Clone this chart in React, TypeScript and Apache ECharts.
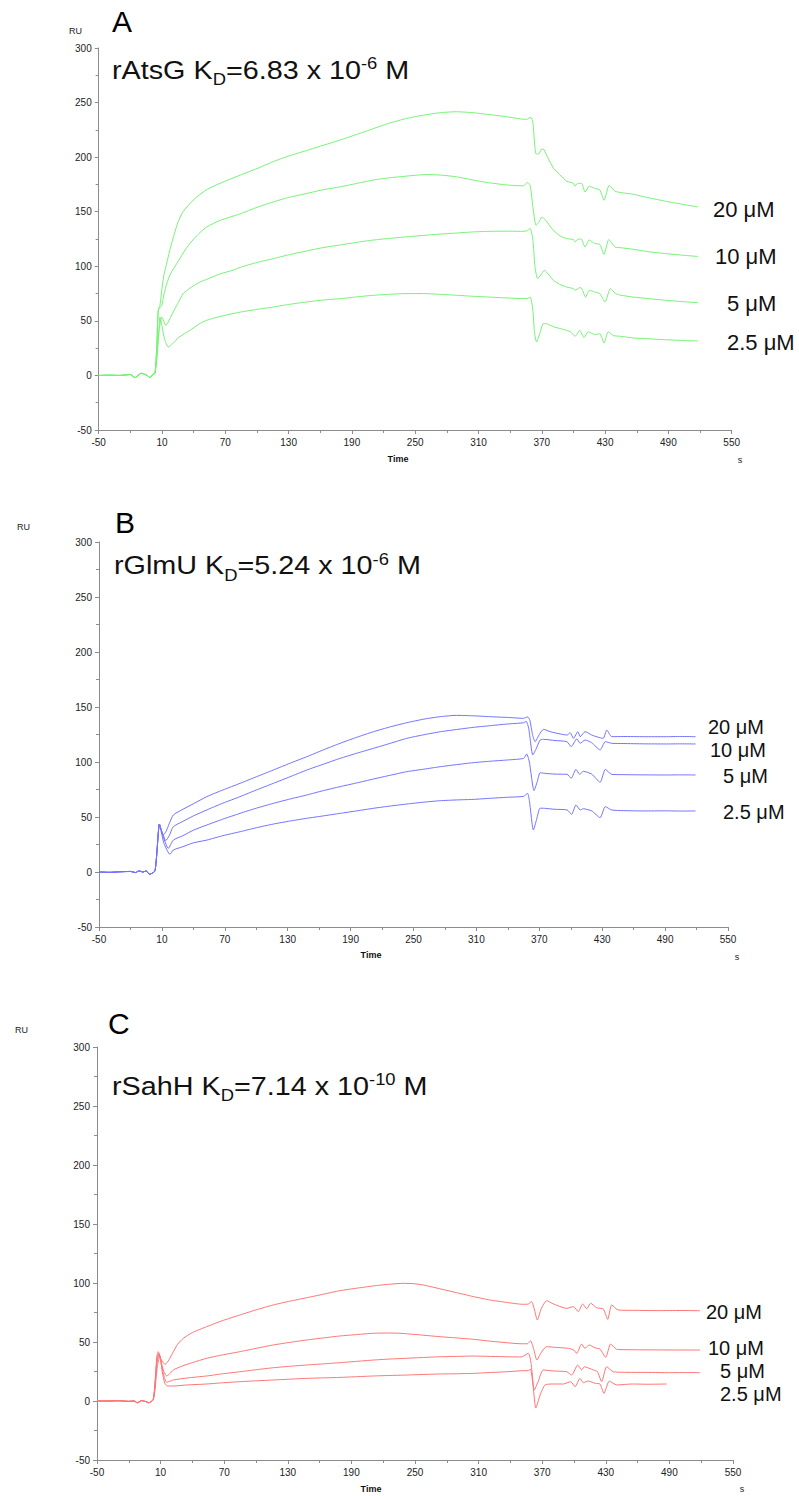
import React, { useEffect, useRef } from "react";
import * as echarts from "echarts";

// ---- axis settings (shared by the three panels) ----
const TIME_MIN = -50;
const TIME_MAX = 550;
const TIME_STEP = 60;
const RU_MIN = -50;
const RU_MAX = 300;
const RU_STEP = 50;

const CONC_LABELS = ["20 μM", "10 μM", "5 μM", "2.5 μM"];

// ---- Panel A : rAtsG ----
const A_BASE: number[][] = [[-50, 0], [-40, 0.2], [-30, 0], [-20, 0.8], [-15.6, -2], [-12, 0.5], [-10, 2], [-7.7, 1.5], [-4, 0], [-1.4, -2], [1, 0.5], [2.5, 1.5], [3.4, 2]];
const A_20: number[][] = [[5, 25], [6.5, 60], [8, 64], [10, 80], [12, 93], [14.5, 103], [17, 113], [20, 124], [25, 140], [30, 150], [40, 161], [52, 170], [65, 176], [84, 183.5], [100, 189.5], [115, 195.7], [130, 201], [147, 206], [160, 210], [178.7, 215.6], [195, 221], [210, 226], [225, 231], [242, 235.5], [258, 238.5], [273.5, 240.7], [289, 241.6], [305, 240.7], [320, 239], [336.7, 237], [350, 235], [355.7, 234.6], [359.5, 236.6], [361.5, 232], [363, 215], [364.5, 203], [367, 203], [370, 207.5], [372, 207], [376, 199], [381, 190], [387, 184], [393.6, 178], [400, 176], [401.5, 173.4], [404, 176], [407.8, 175.9], [411, 168], [415, 173.4], [420, 171.5], [425, 170], [429, 160.5], [434, 174.3], [439.4, 168.8], [445, 167.5], [456.7, 166], [470, 163], [488, 159.5], [505, 156.5], [518, 154.4]];
const A_10: number[][] = [[5, 25], [6.5, 60], [9.7, 64], [12, 75], [14.5, 84], [18, 93], [24, 102.5], [30, 112], [36.5, 121], [45, 130], [52.4, 136], [65, 142], [84, 148], [100, 154], [115.5, 159], [130, 163], [147, 166.7], [162, 170], [178.7, 172.8], [195, 176], [210, 179], [225, 181], [241.8, 182.6], [255, 183.8], [264, 184], [275, 183.5], [289, 182], [305, 179], [321, 176.4], [337, 174.5], [352.5, 173.7], [356.6, 176.8], [359, 174], [361.5, 155], [364.5, 137.6], [367, 140], [370, 145], [373, 143], [380, 134], [387, 128], [393.6, 125.4], [400, 124.5], [401.5, 122.5], [405, 125], [407.8, 124.5], [411, 117.7], [415, 124], [420, 121], [425, 120], [429, 111], [433.5, 124.5], [439.4, 117.7], [445, 117], [456.7, 115.6], [470, 113.5], [488, 111.6], [505, 110], [518, 109]];
const A_5: number[][] = [[5, 15], [7, 40], [9.7, 53.5], [11.5, 50], [13.5, 45.9], [16, 49], [20, 57], [25, 66], [30.2, 75], [38, 81], [46, 85.6], [52.4, 88], [65, 93], [77.6, 96.5], [84, 99], [100, 103.5], [115.5, 107], [130, 110.5], [147, 114], [162, 117], [178.7, 119.5], [195, 122], [210, 124], [225, 125.5], [242, 127], [258, 128.3], [273.5, 129.5], [290, 130.5], [305, 131.5], [320, 132], [336.7, 132.2], [350, 132], [356, 132.5], [359, 134.6], [361.5, 125], [363.5, 100], [366, 88.7], [369, 92], [372.4, 96.3], [376, 93], [381, 87.2], [387, 83.5], [393.6, 81], [400, 79.5], [401.5, 78], [406, 80.5], [408, 79.5], [411.5, 71.8], [415, 78], [420, 76.5], [425, 75], [430, 67.3], [435, 79.5], [440, 75], [445, 73.5], [456.7, 71.8], [470, 70.5], [488, 68.8], [505, 67.5], [518, 66.7]];
const A_2_5: number[][] = [[5, 15], [7, 40], [8, 53.5], [10, 45], [12.5, 33], [16, 26], [20, 29], [26, 35], [36.5, 41.3], [45, 47], [52.4, 50.5], [65, 54], [84, 58], [100, 60.5], [115.5, 62.7], [130, 65], [147, 67.3], [162, 69], [178.7, 70.3], [195, 72], [210, 73.4], [225, 74.3], [242, 75], [258, 75], [273.5, 74.3], [290, 73.4], [305, 72.5], [320, 71.8], [336.7, 71], [350, 70.5], [356, 70.5], [359, 71.8], [361.5, 60], [363, 40], [365, 30.6], [368, 38], [371.4, 47.4], [374.6, 47.4], [380, 45], [387, 43], [393.6, 41.3], [398, 39.5], [401.5, 35.8], [406, 41.3], [410, 34.6], [414, 40], [420, 37.5], [425, 38.2], [429, 29.6], [433, 40], [438, 36.5], [445, 35.8], [456.7, 34.3], [470, 33.6], [488, 32.7], [505, 32], [518, 31.5]];

// ---- Panel B : rGlmU ----
const B_BASE: number[][] = [[-50, 0], [-40, -0.3], [-30, 0.2], [-20, 0.5], [-15, -0.5], [-12, 1], [-8, 0], [-5, 1], [-2, -2], [1, -1], [3.4, 1]];
const B_20: number[][] = [[5, 15], [7.6, 43.6], [9.5, 38], [11.4, 33.6], [14, 37], [17, 44], [20.9, 51.8], [30, 57], [40, 62], [52.8, 68.5], [68, 74.5], [84.5, 80.6], [100, 86.5], [116.3, 92.7], [132, 98.8], [148.2, 104.8], [164, 111], [180, 117], [196, 122.5], [211.7, 127.5], [228, 132], [243.6, 135.7], [260, 139], [275.4, 141.2], [291, 142.4], [307, 142], [323, 141.2], [340, 140.5], [355, 139.7], [358.8, 141], [361, 138], [363.5, 125], [366, 118.5], [370, 125], [374, 129.7], [380.6, 127.5], [390, 125.5], [396.5, 124.5], [399.4, 126.7], [402.6, 121.5], [406.8, 127.6], [409, 123], [413.7, 127.6], [420, 124.5], [428, 122], [431, 121.5], [434.4, 129], [439.2, 123], [450, 123.2], [470, 123], [490, 123], [505, 123.2], [519, 123]];
const B_10: number[][] = [[5, 15], [7.6, 43.6], [9.5, 38], [11.5, 33], [13.6, 28.5], [17, 33], [20.9, 41.2], [30, 46], [40, 51], [52.8, 56.4], [68, 62.5], [84.5, 68.5], [100, 74.5], [116.3, 80.6], [132, 86.5], [148.2, 92.7], [164, 98], [180, 103.3], [196, 108], [211.7, 112.4], [228, 117], [243.6, 121.5], [260, 124.8], [275.4, 127.5], [291, 129.5], [307, 131.5], [323, 133], [339, 134.5], [355, 135.7], [357.5, 137], [360, 130], [363.8, 106.4], [367, 112], [370.8, 120], [374, 120.6], [385, 119.5], [396.3, 118.5], [400.4, 114], [405.8, 121], [409, 117], [413.7, 120], [420, 117.5], [428, 111], [433, 118.5], [439, 117], [450, 116.8], [470, 116.5], [490, 116.4], [505, 116.5], [519, 116.4]];
const B_5: number[][] = [[5, 15], [7.6, 43.6], [9.5, 38], [12, 30], [16.1, 21.5], [20.9, 29], [30, 33], [40, 38], [52.8, 42.7], [68, 48], [84.5, 53.3], [100, 58], [116.3, 62.4], [132, 66.3], [148.2, 70], [164, 74], [180, 77.6], [196, 81], [211.7, 84.5], [228, 88], [243.6, 91.2], [260, 93.5], [275.4, 95.7], [291, 97.6], [307, 99.4], [323, 100.7], [339, 101.8], [355, 103.3], [358, 107.3], [360.5, 100], [365, 74], [368, 82], [370.8, 90.3], [375, 89.7], [385, 89], [396.5, 88.8], [400.4, 85.2], [405, 93.3], [408.5, 88.8], [412, 91.5], [420, 89], [428, 81.5], [433, 93.3], [439, 88.8], [450, 88.5], [470, 88.3], [490, 88.2], [505, 88.3], [519, 88.2]];
const B_2_5: number[][] = [[5, 15], [7.6, 43.6], [9.5, 36], [12, 26], [17.7, 16], [20.9, 20], [30, 23], [40, 26.5], [52.8, 29], [68, 33], [84.5, 36.6], [100, 40.2], [116.3, 43.6], [132, 46.3], [148.2, 48.8], [164, 51], [180, 53.3], [196, 55.6], [211.7, 57.9], [228, 60], [243.6, 61.8], [260, 63.5], [275.4, 64.8], [291, 65.5], [307, 66], [323, 67], [339, 67.9], [355, 68.8], [358.8, 71.5], [360.5, 65], [364.4, 38.2], [367.5, 48], [370.8, 58], [375, 57.9], [385, 57], [396.5, 56.4], [400.8, 52.4], [405, 61], [409, 56.4], [412, 57.5], [420, 55.5], [428, 49.4], [433, 59.4], [439, 56.4], [450, 55.8], [470, 55.5], [490, 55.6], [505, 55.4], [519, 55.5]];

// ---- Panel C : rSahH ----
const C_BASE: number[][] = [[-50, 0], [-40, 0], [-30, 0.2], [-20, -0.3], [-15, 0], [-12, -1.5], [-8, 0.3], [-4, -0.5], [-1, -1.5], [1, -0.5], [3, 1]];
const C_20: number[][] = [[4.5, 12], [6.5, 38], [7.8, 41.8], [9.5, 37], [12, 33], [14.2, 31], [18, 35], [22, 41.8], [26, 48], [31.4, 53.1], [40, 58], [53.5, 63], [68, 68], [84.9, 72.9], [100, 77.2], [116.3, 81.4], [132, 84.6], [147.8, 87.5], [164, 90.6], [179.2, 93.5], [195, 95.6], [210.7, 97.5], [225, 98.9], [239, 99.7], [248, 99.5], [257.8, 98.3], [273, 95.2], [289.3, 91.8], [305, 88.5], [320.7, 85.6], [336, 83.6], [352.2, 81.9], [357, 82.2], [360, 84.2], [362.5, 78], [365.4, 68.6], [369, 78], [374.2, 85], [380, 82.5], [393, 78.5], [399.4, 80], [404, 75.7], [408.2, 82.2], [412, 78.2], [415.7, 82.8], [421.4, 79], [427.6, 78], [431.8, 69.2], [435.6, 81.4], [441.8, 77.1], [460, 76.8], [480, 76.6], [500, 76.7], [518.9, 76.5]];
const C_10: number[][] = [[4.5, 12], [6.5, 35], [8.3, 40], [10.5, 33], [13, 25], [15.7, 21.2], [18, 22.5], [22, 26.3], [30, 29.5], [40, 32.5], [53.5, 36.2], [68, 39], [84.9, 41.8], [100, 44.6], [116.3, 47.5], [132, 49.7], [147.8, 51.7], [164, 53.5], [179.2, 55.1], [195, 56.3], [210.7, 57.4], [225, 57.6], [235.8, 57.4], [250, 56.4], [273.6, 54.5], [290, 53.4], [305, 52.3], [320, 50.8], [336.5, 49.4], [350, 48.5], [356, 48.5], [359, 51], [362, 44], [365, 34.7], [369, 41], [374, 46], [385, 45.3], [395, 44.6], [400, 43], [402.5, 40.4], [407.2, 48.3], [410.4, 44.6], [414.2, 47.5], [420, 45], [424.5, 44], [429.9, 37], [434.6, 48.3], [440.3, 43.8], [460, 43.4], [480, 43.3], [500, 43.2], [518.9, 43.2]];
const C_5: number[][] = [[4.5, 10], [6.5, 32], [8.8, 40], [11, 30], [13.5, 20], [15.7, 15.8], [18, 16.5], [22, 17.8], [35, 19.5], [53.5, 21.2], [68, 23], [84.9, 24.8], [100, 26.5], [116.3, 28.2], [132, 29.4], [147.8, 30.5], [164, 31.5], [179.2, 32.5], [195, 33.6], [210.7, 34.7], [225, 35.5], [242, 36.2], [258, 36.9], [273.6, 37.5], [290, 37.8], [305, 38.1], [320, 37.8], [336.5, 37.5], [350, 37.3], [357, 40.4], [359.5, 32], [362.6, 9.3], [366, 16], [371, 26.3], [380, 25.5], [393, 24.8], [397.8, 22], [403.5, 30.5], [407.3, 26.3], [409.8, 29], [418.2, 26.3], [422, 25], [426.1, 16.4], [430.8, 29], [437.1, 24.8], [450, 24.3], [470, 24.2], [490, 24], [505, 24.1], [518.9, 24]];
const C_2_5: number[][] = [[4.5, 8], [7, 30], [9.3, 38], [11.5, 25], [14, 15], [16.5, 12.7], [22, 12.7], [35, 13.6], [53.5, 14.4], [68, 15.4], [84.9, 16.4], [100, 17.1], [116.3, 17.8], [132, 18.5], [147.8, 19.2], [164, 19.6], [179.2, 20], [195, 20.6], [210.7, 21.2], [225, 21.6], [242, 22], [258, 22.5], [273.6, 22.9], [290, 23.1], [305, 23.4], [320, 24.1], [336.5, 24.8], [350, 25.6], [357, 25.8], [359, 26.8], [361.5, 12], [364, -6], [368, 5], [372.6, 13.6], [380, 14.4], [390, 14.4], [396.9, 16.4], [401, 12.1], [405.7, 19.2], [408.8, 15.5], [413.5, 16.9], [420, 15], [424.5, 14.4], [428.3, 6.5], [433.3, 16.9], [440.3, 13.6], [455, 14.4], [470, 14.2], [487.4, 14.4]];

const FONT = "'Liberation Sans', Arial, Helvetica, sans-serif";

type Panel = {
  letter: string;
  protein: string;
  kdMant: string;
  kdExp: string;
  color: string;
  base: number[][];
  series: number[][][];
  grid: { left: number; top: number; width: number; height: number };
  letterPos: [number, number];
  titlePos: [number, number];
  ruPos: [number, number];
  timePos: [number, number];
  sPos: [number, number];
  labelPos: [number, number][];
  labelSize: number;
};

const PANELS: Panel[] = [
  {
    letter: "A", protein: "rAtsG", kdMant: "6.83", kdExp: "-6", color: "#74f274",
    base: A_BASE, series: [A_20, A_10, A_5, A_2_5],
    grid: { left: 98.7, top: 48, width: 633, height: 382 },
    letterPos: [112, 21], titlePos: [112, 75], ruPos: [69, 31], timePos: [398, 459], sPos: [740, 460],
    labelPos: [[713, 209], [715, 256], [727, 303], [727, 342]], labelSize: 22,
  },
  {
    letter: "B", protein: "rGlmU", kdMant: "5.24", kdExp: "-6", color: "#7272ff",
    base: B_BASE, series: [B_20, B_10, B_5, B_2_5],
    grid: { left: 99, top: 542, width: 629, height: 385 },
    letterPos: [115, 522.5], titlePos: [114, 570.5], ruPos: [17, 527], timePos: [371, 955], sPos: [737, 957],
    labelPos: [[708, 727], [710, 750], [723, 776], [723, 812]], labelSize: 20,
  },
  {
    letter: "C", protein: "rSahH", kdMant: "7.14", kdExp: "-10", color: "#ff7474",
    base: C_BASE, series: [C_20, C_10, C_5, C_2_5],
    grid: { left: 97, top: 1047, width: 636, height: 413 },
    letterPos: [108, 1023], titlePos: [112, 1091], ruPos: [15, 1030], timePos: [371, 1489], sPos: [742, 1489],
    labelPos: [[706, 1312], [708, 1348], [720, 1371], [720, 1394]], labelSize: 20,
  },
];

export default function App() {
  const ref = useRef<HTMLDivElement>(null);

  useEffect(() => {
    if (!ref.current) return;
    const chart = echarts.init(ref.current, undefined, { renderer: "svg" });

    const axisLineStyle = { color: "#8c8c8c", width: 1 };
    const grids: any[] = [];
    const xAxes: any[] = [];
    const yAxes: any[] = [];
    const series: any[] = [];
    const graphics: any[] = [];

    PANELS.forEach((p, i) => {
      grids.push({ left: p.grid.left, top: p.grid.top, width: p.grid.width, height: p.grid.height, containLabel: false });
      xAxes.push({
        type: "value", gridIndex: i, min: TIME_MIN, max: TIME_MAX, interval: TIME_STEP,
        axisLine: { show: true, onZero: false, lineStyle: axisLineStyle },
        axisTick: { show: true, length: 4, inside: false, lineStyle: axisLineStyle },
        minorTick: { show: true, splitNumber: 2, length: 3, lineStyle: axisLineStyle },
        splitLine: { show: false },
        axisLabel: { color: "#222", fontSize: 10, fontFamily: FONT, margin: 7 },
      });
      yAxes.push({
        type: "value", gridIndex: i, min: RU_MIN, max: RU_MAX, interval: RU_STEP,
        axisLine: { show: true, onZero: false, lineStyle: axisLineStyle },
        axisTick: { show: true, length: 4, inside: false, lineStyle: axisLineStyle },
        minorTick: { show: true, splitNumber: 2, length: 3, lineStyle: axisLineStyle },
        splitLine: { show: false },
        axisLabel: { color: "#222", fontSize: 10, fontFamily: FONT, margin: 7 },
      });
      p.series.forEach((s, k) => {
        series.push({
          type: "line", name: `${p.letter} ${CONC_LABELS[k]}`, xAxisIndex: i, yAxisIndex: i,
          data: p.base.concat(s), showSymbol: false, symbol: "none", smooth: 0.2,
          lineStyle: { color: p.color, width: 1 }, itemStyle: { color: p.color },
        });
        const lp = p.labelPos[k];
        graphics.push({
          type: "text", x: lp[0], y: lp[1],
          style: { text: CONC_LABELS[k], fill: "#111", font: `${p.labelSize}px ${FONT}`, textAlign: "left", textVerticalAlign: "middle" },
        });
      });
      graphics.push({
        type: "text", x: p.letterPos[0], y: p.letterPos[1],
        style: { text: p.letter, fill: "#000", font: `30px ${FONT}`, textAlign: "left", textVerticalAlign: "middle" },
      });
      graphics.push({
        type: "text", x: p.titlePos[0], y: p.titlePos[1] - 17, scaleX: 1.15,
        style: {
          text: `{m|${p.protein} K}{sub|D}{m|=${p.kdMant} x 10}{sup|${p.kdExp}}{m| M}`,
          textAlign: "left", textVerticalAlign: "top",
          rich: {
            m: { fontSize: 25, fontFamily: FONT, fill: "#111", lineHeight: 25 },
            sub: { fontSize: 16, fontFamily: FONT, fill: "#111", lineHeight: 16, padding: [18, 0, 0, 0] },
            sup: { fontSize: 16, fontFamily: FONT, fill: "#111", lineHeight: 16, padding: [0, 0, 14, 0] },
          },
        },
      });
      graphics.push({
        type: "text", x: p.ruPos[0], y: p.ruPos[1],
        style: { text: "RU", fill: "#222", font: `9px ${FONT}`, textAlign: "left", textVerticalAlign: "middle" },
      });
      graphics.push({
        type: "text", x: p.timePos[0], y: p.timePos[1],
        style: { text: "Time", fill: "#111", font: `bold 9px ${FONT}`, textAlign: "center", textVerticalAlign: "middle" },
      });
      graphics.push({
        type: "text", x: p.sPos[0], y: p.sPos[1],
        style: { text: "s", fill: "#222", font: `9px ${FONT}`, textAlign: "center", textVerticalAlign: "middle" },
      });
    });

    chart.setOption({
      animation: false,
      backgroundColor: "#ffffff",
      grid: grids,
      xAxis: xAxes,
      yAxis: yAxes,
      series,
      graphic: graphics,
    });

    return () => chart.dispose();
  }, []);

  return (
    <div
      ref={ref}
      style={{ position: "absolute", left: 0, top: 0, width: 799, height: 1496 }}
    />
  );
}
